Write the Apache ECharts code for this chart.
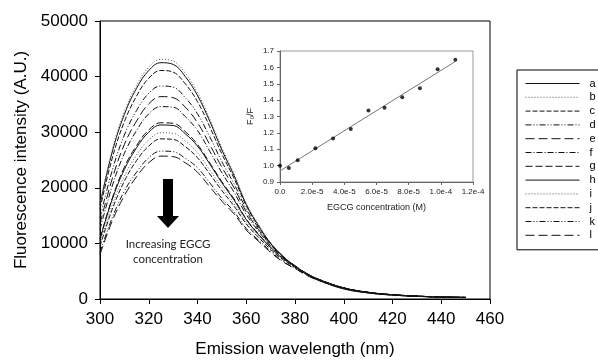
<!DOCTYPE html>
<html><head><meta charset="utf-8">
<script src="https://cdn.jsdelivr.net/npm/echarts@6/dist/echarts.min.js"></script>
<style>html,body{margin:0;padding:0;background:#fff}#c{width:598px;height:363px}</style>
</head><body><div id="c"></div>
<script>
const wavelengths = [300,305,310,315,320,325,330,335,340,345,350,355,360,365,370,375,380,385,390,400,410,420,435,450];
const seriesNames = ['a','b','c','d','e','f','g','h','i','j','k','l'];
const a = [17000,26400,33200,37900,41100,42500,42200,40000,36600,32000,26800,22200,17000,13200,10000,7700,5800,4400,3300,1800,1100,700,400,250];
const b = [17200,26800,33700,38400,41700,43100,42800,40600,37100,32400,27200,22500,17200,13400,10100,7800,5900,4450,3350,1850,1100,700,400,260];
const c = [16200,25300,31900,36500,39700,41100,40800,38700,35500,31000,26100,21700,16800,13100,10000,7700,5900,4450,3350,1900,1100,700,400,260];
const d = [14600,23100,29500,33900,37000,38300,38100,36200,33300,29200,24700,20700,16200,12800,9900,7700,5900,4500,3400,1950,1150,740,410,280];
const e = [13500,21600,27800,32000,35100,36400,36200,34500,31700,27800,23700,20000,15700,12500,9800,7600,6000,4550,3500,2000,1180,760,420,290];
const f = [12500,20300,26200,30300,33300,34600,34500,32800,30300,26600,22700,19200,15200,12200,9600,7600,5950,4550,3500,2000,1190,770,430,290];
const g = [10900,18100,23700,27600,30400,31700,31600,30100,27800,24500,21100,18000,14400,11700,9300,7400,5900,4500,3500,2000,1210,780,430,290];
const h = [10700,17900,23300,27200,30000,31300,31200,29700,27500,24300,20900,17800,14300,11600,9300,7300,5850,4500,3450,2000,1210,770,430,290];
const i = [10000,16900,22100,25900,28600,29900,29800,28400,26300,23200,20100,17200,13800,11400,9100,7200,5800,4450,3440,2000,1200,770,430,290];
const j = [9500,16100,21200,24900,27500,28800,28700,27400,25400,22500,19500,16700,13500,11100,8900,7100,5700,4400,3400,2000,1200,770,430,290];
const k = [8400,14600,19400,22800,25400,26600,26500,25300,23600,20900,18100,15700,12700,10600,8600,6800,5500,4300,3300,1950,1180,760,420,290];
const l = [8000,14000,18600,22000,24500,25700,25600,24500,22800,20200,17600,15300,12400,10400,8400,6700,5500,4200,3300,1940,1170,750,410,280];
const xTicks = [300,320,340,360,380,400,420,440,460];
const yTicks = [0,10000,20000,30000,40000,50000];

const concX = [0, 5.5e-6, 1.1e-5, 2.2e-5, 3.3e-5, 4.4e-5, 5.5e-5, 6.5e-5, 7.6e-5, 8.7e-5, 9.8e-5, 1.09e-4];
const f0f = [1.000, 0.985, 1.033, 1.106, 1.165, 1.224, 1.337, 1.353, 1.417, 1.472, 1.589, 1.647];
const fitX = [0, 1.09e-4];
const fitY = [0.968, 1.636];

const allData = [a,b,c,d,e,f,g,h,i,j,k,l];
const dashStyles = ['solid',[1,2],[5,2],[6,2,1,2,1,2],[9,4],[6,2,1,2],[7,3],'solid',[1,2],[5,2],[6,2,1,2,1,2],[9,4]];
const lineColors = ['#111','#555','#111','#111','#111','#111','#111','#111','#555','#111','#111','#111'];

const mainSeries = allData.map((arr, idx) => ({
  name: seriesNames[idx], type: 'line', xAxisIndex: 0, yAxisIndex: 0,
  data: wavelengths.map((w, n) => [w, arr[n]]),
  smooth: 0.4, symbol: 'none', showSymbol: false, animation: false,
  lineStyle: { color: lineColors[idx], width: 1, type: dashStyles[idx] },
  itemStyle: { color: lineColors[idx] }
}));

const axisFont = { fontFamily: 'Liberation Sans, Arial, sans-serif', color: '#000' };

const chart = echarts.init(document.getElementById('c'), null, { renderer: 'canvas' });
chart.setOption({
  backgroundColor: '#fff',
  animation: false,
  grid: [
    { left: 100, top: 21, width: 390, height: 281, show: true, borderColor: '#000', borderWidth: 1, backgroundColor: 'transparent' },
    { left: 280, top: 51, width: 193, height: 131, show: true, borderColor: '#999', borderWidth: 1, backgroundColor: '#fff', z: 5 }
  ],
  xAxis: [
    { type: 'value', gridIndex: 0, min: xTicks[0], max: xTicks[xTicks.length-1], interval: 20,
      name: 'Emission wavelength (nm)', nameLocation: 'middle', nameGap: 42,
      nameTextStyle: Object.assign({ fontSize: 17 }, axisFont),
      axisLine: { lineStyle: { color: '#000', width: 1 } },
      axisTick: { show: true, inside: false, length: 5, lineStyle: { color: '#000' } },
      axisLabel: Object.assign({ fontSize: 17, margin: 12 }, axisFont),
      splitLine: { show: false } },
    { type: 'value', gridIndex: 1, min: 0, max: 1.2e-4, interval: 2e-5,
      name: 'EGCG concentration (M)', nameLocation: 'middle', nameGap: 21,
      nameTextStyle: Object.assign({ fontSize: 9 }, axisFont, { color: '#222' }),
      axisLine: { lineStyle: { color: '#666', width: 1 } },
      axisTick: { show: true, inside: false, length: 3, lineStyle: { color: '#666' } },
      axisLabel: Object.assign({ fontSize: 8, margin: 6, formatter: v => (Math.abs(v) < 1e-12 ? '0.0' : v.toExponential(1)) }, axisFont, { color: '#222' }),
      splitLine: { show: false }, z: 6 }
  ],
  yAxis: [
    { type: 'value', gridIndex: 0, min: yTicks[0], max: yTicks[yTicks.length-1], interval: 10000,
      name: 'Fluorescence intensity (A.U.)', nameLocation: 'middle', nameGap: 69, nameRotate: 90,
      nameTextStyle: Object.assign({ fontSize: 17 }, axisFont),
      axisLine: { show: true, lineStyle: { color: '#000', width: 1 } },
      axisTick: { show: true, inside: false, length: 5, lineStyle: { color: '#000' } },
      axisLabel: Object.assign({ fontSize: 17, margin: 12, formatter: v => String(Math.round(v)) }, axisFont),
      splitLine: { show: false } },
    { type: 'value', gridIndex: 1, min: 0.9, max: 1.7, interval: 0.1,
      name: 'F₀/F', nameLocation: 'middle', nameGap: 25, nameRotate: 90,
      nameTextStyle: Object.assign({ fontSize: 9 }, axisFont, { color: '#222' }),
      axisLine: { show: true, lineStyle: { color: '#666', width: 1 } },
      axisTick: { show: true, inside: false, length: 3, lineStyle: { color: '#666' } },
      axisLabel: Object.assign({ fontSize: 8, margin: 6, formatter: v => v.toFixed(1) }, axisFont, { color: '#222' }),
      splitLine: { show: false }, z: 6 }
  ],
  legend: {
    data: seriesNames, orient: 'vertical', left: 517, top: 70,
    itemWidth: 54, itemHeight: 10, itemGap: 2.8,
    padding: [8, 20, 9, 8],
    borderColor: '#000', borderWidth: 1, backgroundColor: '#fff',
    itemStyle: { opacity: 0 },
    lineStyle: { width: 1 },
    textStyle: { fontFamily: 'Liberation Sans, Arial, sans-serif', fontSize: 11, color: '#000', padding: [0,0,0,5] },
    selectedMode: false
  },
  series: mainSeries.concat([
    { name: 'fit', type: 'line', xAxisIndex: 1, yAxisIndex: 1, symbol: 'none', z: 7,
      data: fitX.map((x, n) => [x, fitY[n]]),
      lineStyle: { color: '#777', width: 1 } },
    { name: 'F0F', type: 'scatter', xAxisIndex: 1, yAxisIndex: 1, symbolSize: 4, z: 8,
      data: concX.map((x, n) => [x, f0f[n]]),
      itemStyle: { color: '#000' } }
  ]),
  graphic: [
    { type: 'polygon', z: 10,
      shape: { points: [[163,179],[173,179],[173,216],[179,216],[168,228],[157,216],[163,216]] },
      style: { fill: '#000' } },
    { type: 'text', z: 10, x: 168, y: 237,
      style: { text: 'Increasing EGCG\nconcentration', align: 'center', verticalAlign: 'top',
        font: '11.5px Lato, "Open Sans", sans-serif', fill: '#222', lineHeight: 15 } }
  ]
});
</script></body></html>
